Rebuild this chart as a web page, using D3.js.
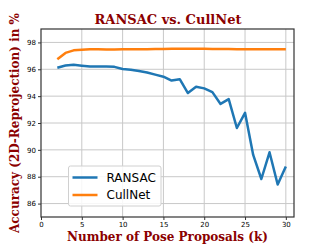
<!DOCTYPE html>
<html><head><meta charset="utf-8">
<script src="https://cdn.jsdelivr.net/npm/d3@7"></script>
<style>body{margin:0;background:#fff}</style>
</head><body>
<svg id="c" width="327" height="245"></svg>
<script>
const proposals = [2,3,4,5,6,7,8,9,10,11,12,13,14,15,16,17,18,19,20,21,22,23,24,25,26,27,28,29,30];
const ransac = [96.12,96.28,96.34,96.27,96.2,96.2,96.2,96.18,96.02,95.97,95.87,95.76,95.6,95.45,95.16,95.26,94.23,94.7,94.58,94.3,93.42,93.78,91.63,92.76,89.62,87.83,89.82,87.42,88.76];
const cullnet = [96.75,97.22,97.41,97.46,97.5,97.5,97.48,97.48,97.49,97.49,97.5,97.5,97.51,97.51,97.52,97.53,97.53,97.52,97.52,97.51,97.51,97.51,97.5,97.5,97.5,97.49,97.49,97.5,97.5];
const xTicks = [0,5,10,15,20,25,30];
const yTicks = [86,88,90,92,94,96,98];
const seriesNames = ["RANSAC","CullNet"];
const colors = ["#1f77b4","#ff7f0e"];

const svg = d3.select("#c");
const L=41, R=294, T=29, B=217;
const x = d3.scaleLinear().domain([0,31]).range([L,R]);
const y = d3.scaleLinear().domain([85,99]).range([B,T]);

// grid
svg.append("g").selectAll("line").data(xTicks.filter(d=>d>0)).join("line")
  .attr("x1",d=>x(d)).attr("x2",d=>x(d)).attr("y1",T).attr("y2",B)
  .attr("stroke","#c8c8c8").attr("stroke-width",1);
svg.append("g").selectAll("line").data(yTicks).join("line")
  .attr("x1",L).attr("x2",R).attr("y1",d=>y(d)).attr("y2",d=>y(d))
  .attr("stroke","#c8c8c8").attr("stroke-width",1);

const xa = svg.append("g").attr("transform",`translate(0,${B})`)
  .call(d3.axisBottom(x).tickValues(xTicks).tickSize(3).tickPadding(2));
const ya = svg.append("g").attr("transform",`translate(${L},0)`)
  .call(d3.axisLeft(y).tickValues(yTicks).tickSize(3).tickPadding(2));
[xa,ya].forEach(a=>{
  a.select(".domain").remove();
  a.selectAll("text").attr("font-family","DejaVu Sans").attr("font-size",7).attr("fill","#000");
  a.selectAll("line").attr("stroke","#333");
});

const line = d3.line().x((d,i)=>x(proposals[i])).y(d=>y(d));
[ransac,cullnet].forEach((s,i)=>{
  svg.append("path").datum(s).attr("d",line).attr("fill","none")
    .attr("stroke",colors[i]).attr("stroke-width",2.5).attr("stroke-linejoin","round");
});

svg.append("rect").attr("x",L).attr("y",T).attr("width",R-L).attr("height",B-T)
  .attr("fill","none").attr("stroke","#333").attr("stroke-width",1.2);

// legend
const lg = svg.append("g");
lg.append("rect").attr("x",68.5).attr("y",166).attr("width",92.5).attr("height",40).attr("rx",2)
  .attr("fill","#fff").attr("fill-opacity",0.85).attr("stroke","#d0d0d0");
seriesNames.forEach((n,i)=>{
  const yy = 177.5 + i*17.5;
  lg.append("line").attr("x1",72.5).attr("x2",97.5).attr("y1",yy).attr("y2",yy)
    .attr("stroke",colors[i]).attr("stroke-width",2.5);
  lg.append("text").attr("x",106.5).attr("y",yy+4.3).text(n)
    .attr("font-family","DejaVu Sans").attr("font-size",12).attr("fill","#000");
});

const red = "#8b0000";
svg.append("text").attr("x",168).attr("y",24).attr("text-anchor","middle")
  .attr("font-family","DejaVu Serif").attr("font-weight","bold").attr("font-size",13)
  .attr("fill",red).text("RANSAC vs. CullNet");
svg.append("text").attr("x",167.5).attr("y",241).attr("text-anchor","middle")
  .attr("font-family","DejaVu Serif").attr("font-weight","bold").attr("font-size",12)
  .attr("fill",red).text("Number of Pose Proposals (k)");
svg.append("text").attr("transform","translate(19,123) rotate(-90)").attr("text-anchor","middle")
  .attr("font-family","DejaVu Serif").attr("font-weight","bold").attr("font-size",12)
  .attr("fill",red).text("Accuracy (2D-Reprojection) in %");
</script>
</body></html>
